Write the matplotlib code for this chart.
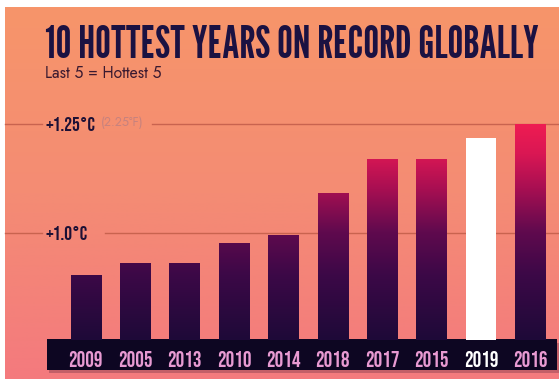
import numpy as np
import matplotlib
matplotlib.use("Agg")
import matplotlib.pyplot as plt
from matplotlib.colors import LinearSegmentedColormap, Normalize
from matplotlib.patches import Rectangle
from matplotlib.transforms import blended_transform_factory

# data (anomaly, deg C)
years = ["2009", "2005", "2013", "2010", "2014", "2018", "2017", "2015", "2019", "2016"]
anomaly = [0.904, 0.932, 0.932, 0.976, 0.995, 1.091, 1.169, 1.169, 1.217, 1.250]
ref_levels = [1.0, 1.25]
ref_labels = ["+1.0°C", "+1.25°C"]
ref_notes = ["", "(2.25°F)"]
highlight = "2019"

W, H = 559, 379
fig = plt.figure(figsize=(W / 100, H / 100), dpi=100)
fig.patch.set_facecolor("white")

#--------------------------------------------------
# background gradient
#--------------------------------------------------
bg = fig.add_axes([5 / W, 0, 1 - 5 / W, 1 - 7 / H])
bg.set_zorder(0)
bg_cmap = LinearSegmentedColormap.from_list("bg", ["#f7956a", "#f48c74", "#f47a7e"])
bg.imshow(np.linspace(0, 1, 256).reshape(-1, 1), cmap=bg_cmap, aspect="auto",
          extent=[0, 1, 1, 0], origin="upper")
bg.set_xlim(0, 1)
bg.set_ylim(1, 0)
bg.axis("off")

#--------------------------------------------------
# year band
#--------------------------------------------------
shadow = Rectangle((49 / W, 6 / H), 510 / W, 30 / H, transform=fig.transFigure,
                   facecolor="#6a2a40", alpha=0.35, linewidth=0, zorder=1)
band = Rectangle((47 / W, 9 / H), 510 / W, 31 / H, transform=fig.transFigure,
                 facecolor="#0d0622", linewidth=0, zorder=1.1)
fig.patches.extend([shadow, band])

#--------------------------------------------------
# bars
#--------------------------------------------------
ax = fig.add_axes([61 / W, 39 / H, 494 / W, 230 / H])
ax.set_zorder(2)
ax.patch.set_alpha(0)
ylo, yhi = 0.7545, 1.282
x = np.arange(len(years))

bar_cmap = LinearSegmentedColormap.from_list(
    "bars", [(0.0, "#1e0a38"), (0.3, "#3c0847"), (0.5, "#600a4e"),
             (0.7, "#a80f52"), (0.86, "#da1754"), (1.0, "#ef1c52")])
grad = np.linspace(ylo, 1.25, 256).reshape(-1, 1)

bars = ax.bar(x, anomaly, width=0.61, bottom=0, color="white", linewidth=0, zorder=3)
for yr, b in zip(years, bars):
    if yr == highlight:
        continue
    im = ax.imshow(grad, cmap=bar_cmap, norm=Normalize(ylo, 1.25), origin="lower",
                   extent=[-0.5, 9.5, ylo, 1.25], aspect="auto", zorder=4)
    im.set_clip_path(b)

ax.set_xlim(-0.5, 9.5)
ax.set_ylim(ylo, yhi)
for s in ax.spines.values():
    s.set_visible(False)
ax.set_yticks([])

# reference lines with labels
tr = blended_transform_factory(ax.transAxes, ax.transData)
line_col = "#c9634f"
gap_end = {1.0: (105 - 61) / 494, 1.25: (152 - 61) / 494}
for lvl, lab, note in zip(ref_levels, ref_labels, ref_notes):
    ax.axhline(lvl, xmin=(5 - 61) / 494, xmax=(42 - 61) / 494, color=line_col,
               lw=1, clip_on=False, zorder=1)
    ax.axhline(lvl, xmin=gap_end[lvl], xmax=(559 - 61) / 494, color=line_col,
               lw=1, clip_on=False, zorder=1)
    ax.text((46 - 61) / 494, lvl, lab, transform=tr, va="center", ha="left",
            family="Bebas Neue", fontsize=14, color="#1c1035")
    if note:
        ax.text((101 - 61) / 494, lvl + 0.003, note, transform=tr, va="center", ha="left",
                family="Jost", fontsize=9, color="#c7827e")

# year labels
ax.set_xticks(x)
ax.set_xticklabels(years, family="Bebas Neue", fontsize=15.5)
ax.tick_params(axis="x", length=0, pad=19.3)
for lbl, yr in zip(ax.get_xticklabels(), years):
    lbl.set_va("baseline")
    lbl.set_color("white" if yr == highlight else "#e89ad2")

#--------------------------------------------------
# titles
#--------------------------------------------------
title = fig.text(45 / W, 1 - 58 / H, "10 HOTTEST YEARS ON RECORD GLOBALLY",
                 family="League Gothic", fontsize=30, color="#1b1242",
                 va="baseline", ha="left")
w = title.get_window_extent(fig.canvas.get_renderer()).width
title.set_fontsize(30 * 495 / w)
fig.text(45 / W, 1 - 78 / H, "Last 5 = Hottest 5", family="Jost", fontsize=11.3,
         weight="medium", color="#3a1a30", va="baseline", ha="left")

fig.savefig("out.png", dpi=100)
